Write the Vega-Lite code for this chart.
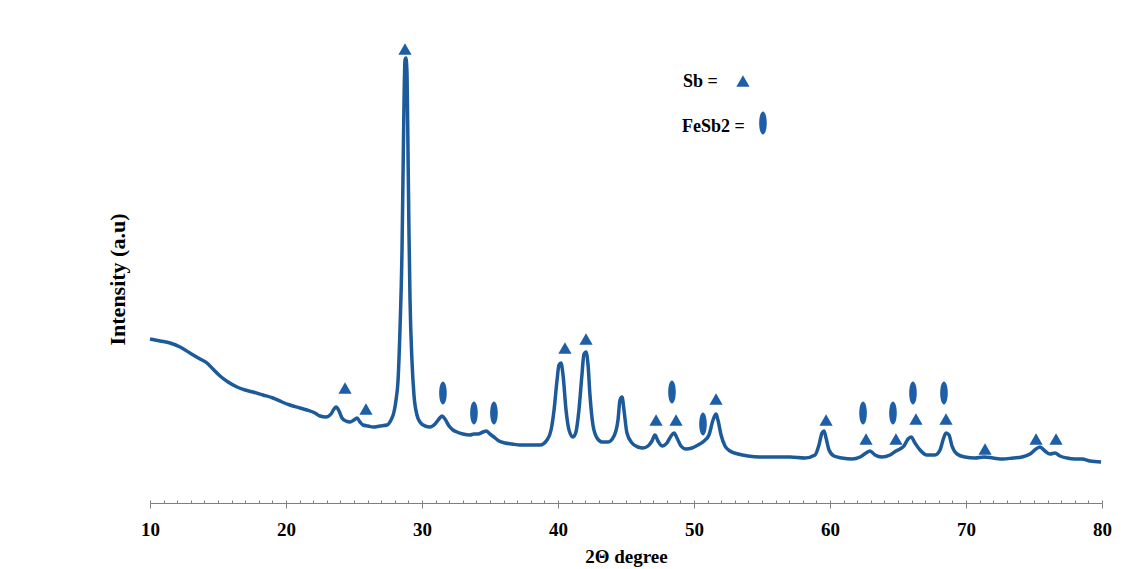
{
  "$schema": "https://vega.github.io/schema/vega-lite/v6.json",
  "autosize": "none",
  "width": 952,
  "height": 495,
  "padding": {"left": 150, "top": 8, "right": 42, "bottom": 66},
  "background": "#ffffff",
  "config": {"view": {"stroke": null}, "font": "Liberation Serif"},
  "datasets": {
    "xrd": [
      {"deg":10.00,"I":164},{"deg":10.74,"I":162},{"deg":11.47,"I":160},{"deg":12.21,"I":156},{"deg":12.94,"I":150},
      {"deg":13.68,"I":144},{"deg":14.19,"I":140},{"deg":14.63,"I":134},{"deg":15.15,"I":127},{"deg":15.74,"I":121},
      {"deg":16.40,"I":116},{"deg":16.99,"I":113},{"deg":17.57,"I":111},{"deg":18.31,"I":108},{"deg":19.04,"I":105},
      {"deg":19.71,"I":101},{"deg":20.29,"I":98},{"deg":21.03,"I":95},{"deg":21.54,"I":93},{"deg":22.13,"I":90},
      {"deg":22.50,"I":87},{"deg":22.94,"I":86},{"deg":23.31,"I":89},{"deg":23.53,"I":94},{"deg":23.68,"I":96},
      {"deg":23.90,"I":92},{"deg":24.12,"I":85},{"deg":24.41,"I":82},{"deg":24.71,"I":81},{"deg":25.00,"I":83},
      {"deg":25.22,"I":85},{"deg":25.44,"I":81},{"deg":25.66,"I":78},{"deg":26.03,"I":77},{"deg":26.40,"I":76},
      {"deg":26.91,"I":77},{"deg":27.43,"I":78},{"deg":27.72,"I":83},{"deg":27.94,"I":91},{"deg":28.09,"I":103},
      {"deg":28.24,"I":123},{"deg":28.38,"I":173},{"deg":28.53,"I":253},{"deg":28.60,"I":323},{"deg":28.68,"I":403},
      {"deg":28.75,"I":443},{"deg":28.82,"I":445},{"deg":28.90,"I":428},{"deg":28.97,"I":353},{"deg":29.04,"I":273},
      {"deg":29.12,"I":203},{"deg":29.26,"I":143},{"deg":29.41,"I":108},{"deg":29.63,"I":88},{"deg":29.85,"I":81},
      {"deg":30.22,"I":77},{"deg":30.59,"I":76},{"deg":30.96,"I":79},{"deg":31.25,"I":84},{"deg":31.47,"I":87},
      {"deg":31.69,"I":84},{"deg":31.99,"I":77},{"deg":32.28,"I":73},{"deg":32.57,"I":71},{"deg":33.01,"I":69},
      {"deg":33.53,"I":68},{"deg":33.82,"I":69},{"deg":34.12,"I":69},{"deg":34.49,"I":71},{"deg":34.71,"I":72},
      {"deg":35.00,"I":69},{"deg":35.29,"I":66},{"deg":35.66,"I":62},{"deg":36.10,"I":60},{"deg":36.62,"I":59},
      {"deg":37.21,"I":58},{"deg":37.94,"I":58},{"deg":38.68,"I":58},{"deg":39.19,"I":63},{"deg":39.49,"I":73},
      {"deg":39.71,"I":93},{"deg":39.93,"I":123},{"deg":40.07,"I":138},{"deg":40.22,"I":140},{"deg":40.37,"I":128},
      {"deg":40.59,"I":93},{"deg":40.81,"I":73},{"deg":41.10,"I":66},{"deg":41.32,"I":71},{"deg":41.54,"I":93},
      {"deg":41.76,"I":128},{"deg":41.91,"I":149},{"deg":42.06,"I":151},{"deg":42.21,"I":138},{"deg":42.35,"I":108},
      {"deg":42.57,"I":78},{"deg":42.87,"I":65},{"deg":43.24,"I":61},{"deg":43.68,"I":61},{"deg":44.12,"I":67},
      {"deg":44.41,"I":83},{"deg":44.56,"I":103},{"deg":44.71,"I":106},{"deg":44.85,"I":93},{"deg":45.07,"I":70},
      {"deg":45.44,"I":60},{"deg":45.88,"I":56},{"deg":46.25,"I":55},{"deg":46.62,"I":57},{"deg":46.91,"I":62},
      {"deg":47.13,"I":68},{"deg":47.35,"I":62},{"deg":47.65,"I":57},{"deg":48.01,"I":60},{"deg":48.31,"I":67},
      {"deg":48.53,"I":70},{"deg":48.75,"I":65},{"deg":49.04,"I":57},{"deg":49.41,"I":54},{"deg":49.85,"I":55},
      {"deg":50.29,"I":58},{"deg":50.74,"I":62},{"deg":51.10,"I":68},{"deg":51.40,"I":83},{"deg":51.62,"I":89},
      {"deg":51.76,"I":83},{"deg":51.99,"I":68},{"deg":52.28,"I":57},{"deg":52.65,"I":52},{"deg":53.24,"I":49},
      {"deg":53.97,"I":47},{"deg":54.85,"I":46},{"deg":55.96,"I":46},{"deg":57.06,"I":46},{"deg":58.16,"I":45},
      {"deg":58.90,"I":48},{"deg":59.19,"I":58},{"deg":59.41,"I":70},{"deg":59.56,"I":72},{"deg":59.71,"I":65},
      {"deg":59.93,"I":53},{"deg":60.29,"I":47},{"deg":60.88,"I":45},{"deg":61.62,"I":44},{"deg":62.21,"I":46},
      {"deg":62.65,"I":50},{"deg":62.94,"I":52},{"deg":63.31,"I":48},{"deg":63.82,"I":46},{"deg":64.41,"I":48},
      {"deg":64.85,"I":52},{"deg":65.15,"I":54},{"deg":65.44,"I":57},{"deg":65.74,"I":64},{"deg":65.96,"I":66},
      {"deg":66.25,"I":60},{"deg":66.62,"I":53},{"deg":67.13,"I":48},{"deg":67.72,"I":48},{"deg":68.09,"I":53},
      {"deg":68.31,"I":63},{"deg":68.53,"I":70},{"deg":68.75,"I":68},{"deg":68.97,"I":57},{"deg":69.34,"I":49},
      {"deg":69.93,"I":46},{"deg":70.66,"I":45},{"deg":71.32,"I":46},{"deg":71.99,"I":45},{"deg":72.72,"I":44},
      {"deg":73.46,"I":45},{"deg":74.12,"I":46},{"deg":74.71,"I":49},{"deg":75.15,"I":54},{"deg":75.44,"I":56},
      {"deg":75.81,"I":52},{"deg":76.18,"I":49},{"deg":76.54,"I":50},{"deg":76.91,"I":47},{"deg":77.43,"I":45},
      {"deg":78.01,"I":44},{"deg":78.53,"I":44},{"deg":79.12,"I":42},{"deg":79.93,"I":41}
    ],
    "phases": [
      {"phase":"Sb","deg":28.75,"I":454},{"phase":"Sb","deg":24.34,"I":115},{"phase":"Sb","deg":25.88,"I":94},
      {"phase":"Sb","deg":40.51,"I":155},{"phase":"Sb","deg":42.06,"I":164},{"phase":"Sb","deg":47.21,"I":83},
      {"phase":"Sb","deg":48.68,"I":83},{"phase":"Sb","deg":51.62,"I":104},{"phase":"Sb","deg":59.71,"I":83},
      {"phase":"Sb","deg":62.65,"I":64},{"phase":"Sb","deg":64.85,"I":64},{"phase":"Sb","deg":66.32,"I":84},
      {"phase":"Sb","deg":68.53,"I":84},{"phase":"Sb","deg":71.40,"I":54},{"phase":"Sb","deg":75.15,"I":64},
      {"phase":"Sb","deg":76.62,"I":64},
      {"phase":"FeSb2","deg":31.54,"I":110},{"phase":"FeSb2","deg":33.82,"I":90},{"phase":"FeSb2","deg":35.29,"I":90},
      {"phase":"FeSb2","deg":48.38,"I":111},{"phase":"FeSb2","deg":50.66,"I":79},{"phase":"FeSb2","deg":62.43,"I":90},
      {"phase":"FeSb2","deg":64.63,"I":90},{"phase":"FeSb2","deg":66.10,"I":110},{"phase":"FeSb2","deg":68.38,"I":110}
    ],
    "key": [
      {"phase":"Sb","label":"Sb =","deg":49.19,"I":421,"sdeg":53.60,"sI":422},
      {"phase":"FeSb2","label":"FeSb2 =","deg":49.12,"I":376,"sdeg":55.07,"sI":380}
    ]
  },
  "resolve": {"axis": {"x": "independent"}},
  "layer": [
    {
      "data": {"name": "xrd"},
      "mark": {"type": "line", "color": "#1c5a99", "strokeWidth": 3.5, "interpolate": "monotone"},
      "encoding": {
        "x": {"field": "deg", "type": "quantitative",
          "scale": {"domain": [10, 80], "nice": false, "zero": false},
          "axis": {"orient": "bottom", "values": [10,11,12,13,14,15,16,17,18,19,20,21,22,23,24,25,26,27,28,29,30,31,32,33,34,35,36,37,38,39,40,41,42,43,44,45,46,47,48,49,50,51,52,53,54,55,56,57,58,59,60,61,62,63,64,65,66,67,68,69,70,71,72,73,74,75,76,77,78,79,80],
            "domain": false, "labels": false, "grid": false, "tickSize": 3, "tickColor": "#7f7f7f", "tickWidth": 1, "offset": -3, "title": null}},
        "y": {"field": "I", "type": "quantitative",
          "scale": {"domain": [0, 495], "nice": false},
          "axis": {"orient": "left", "domain": false, "ticks": false, "labels": false, "grid": false,
            "title": "Intensity (a.u)", "titleFont": "Liberation Serif", "titleFontWeight": "bold", "titleFontSize": 22,
            "titleColor": "#000000", "titleX": -33, "titleY": 271, "titleAngle": -90, "titleAlign": "center", "titleBaseline": "middle"}}
      }
    },
    {
      "data": {"name": "phases"},
      "mark": {"type": "point", "filled": true, "opacity": 1, "color": "#1d5ea6"},
      "encoding": {
        "x": {"field": "deg", "type": "quantitative",
          "axis": {"orient": "bottom", "values": [10,20,30,40,50,60,70,80], "domain": true, "domainColor": "#7f7f7f", "domainWidth": 1,
            "tickColor": "#7f7f7f", "tickSize": 5, "tickWidth": 1, "grid": false,
            "labelFont": "Liberation Serif", "labelFontWeight": "bold", "labelFontSize": 19, "labelColor": "#000000", "labelPadding": 12, "labelFlush": false,
            "title": "2Θ degree", "titleFont": "Liberation Serif", "titleFontWeight": "bold", "titleFontSize": 19, "titleColor": "#000000", "titlePadding": 8}},
        "y": {"field": "I", "type": "quantitative", "title": "Intensity (a.u)"},
        "shape": {"field": "phase", "type": "nominal",
          "scale": {"domain": ["Sb", "FeSb2"], "range": ["triangle-up", "M0,-1C0.182,-1,0.33,-0.552,0.33,0C0.33,0.552,0.182,1,0,1C-0.182,1,-0.33,0.552,-0.33,0C-0.33,-0.552,-0.182,-1,0,-1Z"]},
          "legend": null},
        "size": {"field": "phase", "type": "ordinal", "scale": {"domain": ["Sb", "FeSb2"], "range": [175, 529]}, "legend": null}
      }
    },
    {
      "data": {"name": "key"},
      "mark": {"type": "text", "align": "left", "baseline": "middle", "font": "Liberation Serif", "fontWeight": "bold", "fontSize": 18, "color": "#000000"},
      "encoding": {
        "x": {"field": "deg", "type": "quantitative", "axis": null},
        "y": {"field": "I", "type": "quantitative", "title": "Intensity (a.u)"},
        "text": {"field": "label", "type": "nominal"}
      }
    },
    {
      "data": {"name": "key"},
      "mark": {"type": "point", "filled": true, "opacity": 1, "color": "#1d5ea6"},
      "encoding": {
        "x": {"field": "sdeg", "type": "quantitative", "axis": null},
        "y": {"field": "sI", "type": "quantitative", "title": "Intensity (a.u)"},
        "shape": {"field": "phase", "type": "nominal", "legend": null},
        "size": {"field": "phase", "type": "ordinal", "legend": null}
      }
    }
  ]
}
